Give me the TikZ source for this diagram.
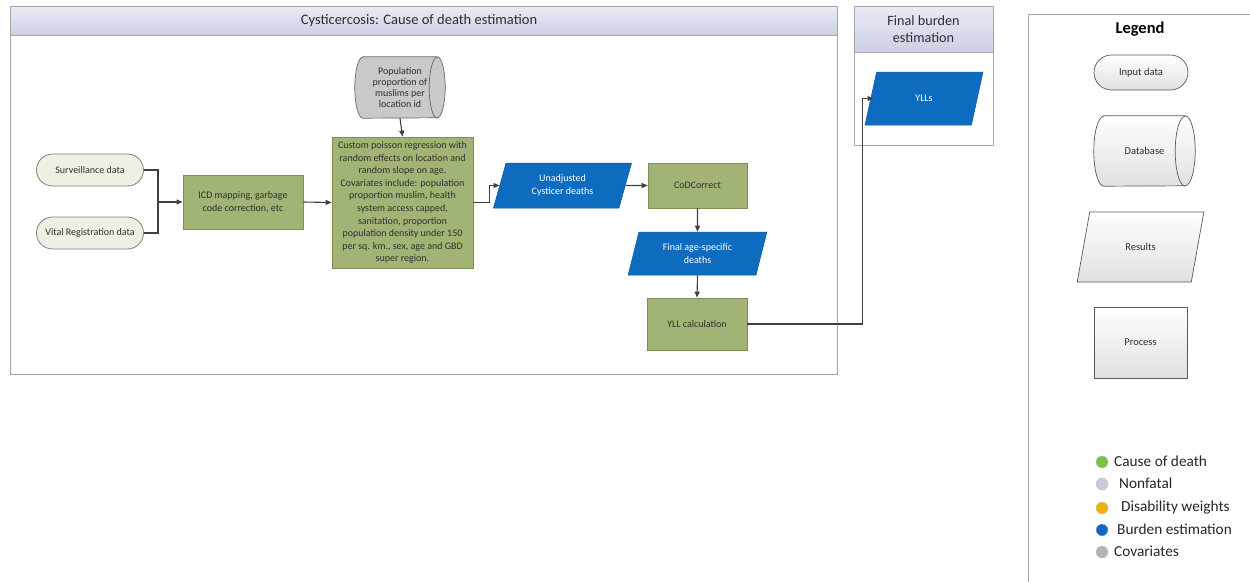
\documentclass[tikz,border=0pt]{standalone}
\usepackage{fontspec}
\setmainfont{Carlito}
\usetikzlibrary{shapes.geometric,shapes.misc,arrows.meta,backgrounds}
\definecolor{procfill}{HTML}{A2B475}
\definecolor{procdraw}{HTML}{7E8F55}
\definecolor{inpfill}{HTML}{EEF0E4}
\definecolor{inpdraw}{HTML}{7F7F7F}
\definecolor{blueres}{HTML}{0E6CC0}
\definecolor{hdrtop}{HTML}{E9EBF5}
\definecolor{hdrbot}{HTML}{CBD0E5}
\definecolor{framec}{HTML}{A6A6A6}
\definecolor{connc}{HTML}{404040}
\definecolor{dbfill}{HTML}{C9C9C9}
\definecolor{txtc}{HTML}{2F2F2F}
\definecolor{cgreen}{HTML}{7CC242}
\definecolor{clav}{HTML}{C8C8DC}
\definecolor{corange}{HTML}{F0B400}
\definecolor{cblue}{HTML}{0B6ABF}
\definecolor{cgray}{HTML}{B4B4B4}
\tikzset{
  small/.style={font=\fontsize{10}{12.6}\selectfont, text=txtc, align=center, inner sep=0pt},
  procbox/.style={small, draw=procdraw, fill=procfill, line width=0.8pt, minimum width=#1},
  inputbox/.style={small, rounded rectangle, draw=inpdraw, fill=inpfill, line width=0.8pt, minimum width=107pt, minimum height=32pt},
  resbox/.style={small, text=white, trapezium, trapezium left angle=72, trapezium right angle=108, trapezium stretches=true, fill=blueres, draw=blueres!80!black, line width=0.5pt},
  conn/.style={draw=connc, line width=1.1pt},
  arr/.style={conn, -{Triangle[length=6pt,width=5pt]}},
  panel/.style={draw=framec, line width=0.9pt},
  hdrtext/.style={font=\fontsize{14.5}{17}\selectfont, text=txtc, align=center, inner sep=0pt},
  legshape/.style={small, font=\fontsize{10.5}{12}\selectfont, draw=black!65, line width=0.7pt, top color=white, bottom color=black!12},
  dot/.style={circle, minimum size=12pt, inner sep=0pt, draw=black!25, line width=0.4pt},
  legtext/.style={anchor=west, font=\fontsize{15.3}{17}\selectfont, text=black!85, inner sep=0pt},
}
\begin{document}
\begin{tikzpicture}[x=1pt, y=-1pt]
\useasboundingbox (0,0) rectangle (1250,581);

% main panel
\shade[top color=hdrtop, bottom color=hdrbot] (10,6) rectangle (837,35);
\draw[panel] (10,6) rectangle (837,374);
\draw[panel] (10,35) -- (837,35);
\node[hdrtext] (mainhdr) at (419,20.5) {Cysticercosis: Cause of death estimation};

% final burden panel
\shade[top color=hdrtop, bottom color=hdrbot] (854,6) rectangle (993,52);
\draw[panel] (854,6) rectangle (993,145);
\draw[panel] (854,52) -- (993,52);
\node[hdrtext, font=\fontsize{14.2}{17}\selectfont] (finhdr) at (923.5,29) {Final burden\\estimation};

% legend panel
\draw[panel] (1028,590) -- (1028,14) -- (1255,14);
\node[font=\fontsize{16.5}{18}\selectfont\bfseries, inner sep=0pt] (leghdr) at (1140,29) {Legend};

% inputs
\node[inputbox] (surv) at (90,170) {Surveillance data};
\node[inputbox] (vital) at (90,233) {Vital Registration data};
\coordinate (j) at (158,202);
\node[procbox=120pt, minimum height=54pt] (icd) at (243,202) {ICD mapping, garbage\\code correction, etc};
\node[procbox=141pt, minimum height=131pt] (custom) at (402.5,202.5) {Custom poisson regression with\\random effects on location and\\random slope on age.\\Covariates include: population\\proportion muslim, health\\system access capped,\\sanitation, proportion\\population density under 150\\per sq. km., sex, age and GBD\\super region.};
\node[small, font=\fontsize{10}{11}\selectfont, minimum width=90pt, minimum height=61pt] (pop) at (400,87.5) {Population\\proportion of\\muslims per\\location id};
\begin{scope}[on background layer]
\filldraw[fill=dbfill, draw=black!60, line width=0.7pt] ([xshift=8pt]pop.north west) -- ([xshift=-8pt]pop.north east) arc[start angle=-90,end angle=90,x radius=8,y radius=30.5] -- ([xshift=8pt]pop.south west) arc[start angle=90,end angle=270,x radius=8,y radius=30.5] -- cycle;
\draw[draw=black!60, line width=0.7pt] ([xshift=-8pt]pop.south east) arc[start angle=90,end angle=270,x radius=8,y radius=30.5];
\end{scope}

\node[resbox, minimum width=139pt, minimum height=45pt] (unadj) at (562.5,185.5) {Unadjusted\\Cysticer deaths};
\node[procbox=99pt, minimum height=45pt] (codc) at (697.5,185.5) {CoDCorrect};
\node[resbox, minimum width=139pt, minimum height=43pt] (final) at (697.5,253.5) {Final age-specific\\deaths};
\node[procbox=100pt, minimum height=52pt] (yllc) at (697,324) {YLL calculation};
\node[resbox, minimum width=118pt, minimum height=53pt] (ylls) at (924,98.5) {YLLs};

% connectors
\draw[conn] (surv.east) -| (j);
\draw[conn] (vital.east) -| (j);
\draw[arr] (j) -- (icd.west);
\draw[arr] (icd.east) -- (custom.west);
\draw[arr] (pop.south) -- (custom.north);
\draw[arr] (custom.east) -- ++(16,0) |- (unadj.west);
\draw[arr] (unadj.east) -- (codc.west);
\draw[arr] (codc.south) -- (final.north);
\draw[arr] (final.south) -- (yllc.north);
\draw[arr] (yllc.east) -- ++(115,0) |- ([xshift=3pt]ylls.west);

% legend shapes
\node[legshape, rounded rectangle, minimum width=94pt, minimum height=35pt] (leginput) at (1141,72.5) {Input data};
\node[small, font=\fontsize{10.5}{12}\selectfont, minimum width=101pt, minimum height=70pt] (legdb) at (1144.5,151) {Database};
\begin{scope}[on background layer]
\shadedraw[top color=white, bottom color=black!12, draw=black!65, line width=0.7pt] ([xshift=10pt]legdb.north west) -- ([xshift=-10pt]legdb.north east) arc[start angle=-90,end angle=90,x radius=10,y radius=35] -- ([xshift=10pt]legdb.south west) arc[start angle=90,end angle=270,x radius=10,y radius=35] -- cycle;
\draw[draw=black!65, line width=0.7pt] ([xshift=-10pt]legdb.south east) arc[start angle=90,end angle=270,x radius=10,y radius=35];
\end{scope}
\node[legshape, trapezium, trapezium left angle=63, trapezium right angle=117, trapezium stretches=true, minimum width=127pt, minimum height=70pt] (legres) at (1140.5,247) {Results};
\node[legshape, minimum width=93pt, minimum height=71pt] (legproc) at (1140.5,342.5) {Process};

% legend colours
\node[dot, fill=cgreen] (d1) at (1102,462) {};
\node[legtext] (t1) at (1114,461) {Cause of death};
\node[dot, fill=clav] (d2) at (1102,484) {};
\node[legtext] (t2) at (1119,483) {Nonfatal};
\node[dot, fill=corange] (d3) at (1102,508) {};
\node[legtext] (t3) at (1121,507) {Disability weights};
\node[dot, fill=cblue] (d4) at (1102,530) {};
\node[legtext] (t4) at (1117,529) {Burden estimation};
\node[dot, fill=cgray] (d5) at (1102,552) {};
\node[legtext] (t5) at (1114,551) {Covariates};
\end{tikzpicture}
\end{document}
